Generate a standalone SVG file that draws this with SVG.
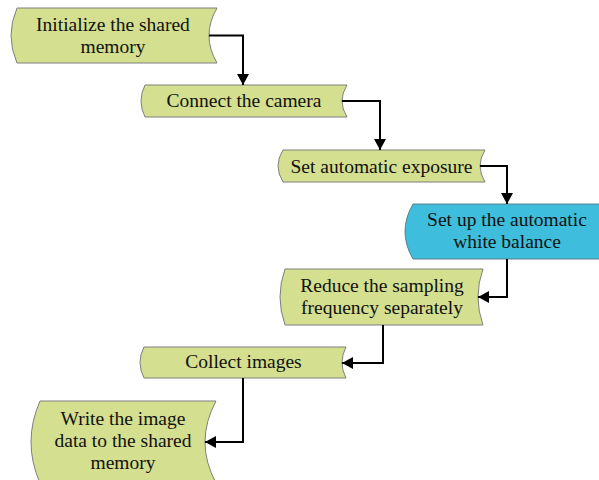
<svg xmlns="http://www.w3.org/2000/svg" width="599" height="480" viewBox="0 0 599 480">
<style>
.n{fill:#D4DF8F;stroke:#7F7F7F;stroke-width:1}
.b{fill:#3EBEDC;stroke:#5A7F8F;stroke-width:1}
.t{font-family:"Liberation Serif","Times New Roman",serif;font-size:19.5px;fill:#111;text-anchor:middle}
.c{fill:none;stroke:#000;stroke-width:2;marker-end:url(#ah)}
</style>
<defs>
<marker id="ah" markerUnits="userSpaceOnUse" markerWidth="13" markerHeight="13" refX="11" refY="6.5" orient="auto">
<path d="M0,0.5 L11,6.5 L0,12.5 Z" fill="#000"/>
</marker>
</defs>
<rect width="599" height="480" fill="#fff"/>
<g id="n1">
<path class="n" d="M17,8 L217,8 Q201,35.5 217,63 L17,63 Q5,35.5 17,8 Z"/>
<text class="t" x="113" y="31">Initialize the shared</text>
<text class="t" x="113" y="52.5">memory</text>
</g>
<g id="n2">
<path class="n" d="M145,85 L347,85 Q337,101 347,117 L145,117 Q137,101 145,85 Z"/>
<text class="t" x="244" y="107">Connect the camera</text>
</g>
<g id="n3">
<path class="n" d="M283,150 L485,150 Q475,166 485,182 L283,182 Q273,166 283,150 Z"/>
<text class="t" x="381.5" y="173">Set automatic exposure</text>
</g>
<g id="n4">
<path class="b" d="M413,204 L613,204 Q597,231.5 613,259 L413,259 Q397,231.5 413,204 Z"/>
<text class="t" x="507" y="226">Set up the automatic</text>
<text class="t" x="507" y="248">white balance</text>
</g>
<g id="n5">
<path class="n" d="M285,269 L483,269 Q473,297 483,325 L285,325 Q275,297 285,269 Z"/>
<text class="t" x="382" y="292">Reduce the sampling</text>
<text class="t" x="382" y="314">frequency separately</text>
</g>
<g id="n6">
<path class="n" d="M144,347 L346,347 Q338,362.5 346,378 L144,378 Q136,362.5 144,347 Z"/>
<text class="t" x="243.5" y="368">Collect images</text>
</g>
<g id="n7">
<path class="n" d="M40,401 L216,401 Q194,442 216,483 L40,483 Q22,442 40,401 Z"/>
<text class="t" x="123" y="425">Write the image</text>
<text class="t" x="123" y="447">data to the shared</text>
<text class="t" x="123" y="469">memory</text>
</g>
<g id="connectors">
<path class="c" d="M209,35.5 H243 V85"/>
<path class="c" d="M342,101 H380 V150"/>
<path class="c" d="M480,166 H507 V204"/>
<path class="c" d="M507,259 V297 H478"/>
<path class="c" d="M383,325 V363 H342"/>
<path class="c" d="M243,378 V442 H205"/>
</g>
</svg>
